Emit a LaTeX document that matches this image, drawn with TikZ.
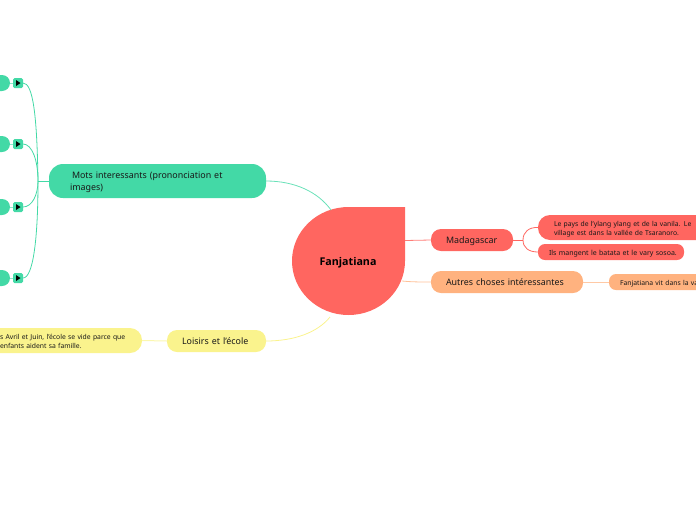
\documentclass[tikz,border=0pt]{standalone}
\usepackage{fontspec}
\setmainfont{Noto Sans}
\newfontfamily\ctrfont{Open Sans}
\newcommand\txtline[2]{\raisebox{-#1}[0pt][0pt]{#2}}
\definecolor{cgreen}{HTML}{43D9A6}
\definecolor{cred}{HTML}{FF6660}
\definecolor{corange}{HTML}{FFB27F}
\definecolor{cyellow}{HTML}{FAF38D}
\tikzset{
  boxbase/.style={inner ysep=0pt,outer sep=0pt,align=left,text=black!90},
  mainbox/.style={boxbase,font=\fontsize{8.9}{12}\selectfont},
  subbox/.style={boxbase,font=\fontsize{6.8}{9}\selectfont},
  stub/.style={fill=cgreen,rounded corners=8pt,minimum width=40pt,minimum height=16pt,inner sep=0pt,outer sep=0pt},
  fold/.style={fill=cgreen,rounded corners=1.5pt,minimum width=10pt,minimum height=10pt,inner sep=0pt,outer sep=0pt},
  link/.style={line width=0.8pt},
  greenlink/.style={link,cgreen},
}
\begin{document}
\begin{tikzpicture}[x=1pt,y=-1pt]
\useasboundingbox (0,0) rectangle (696,520);
\clip (0,0) rectangle (696,520);
% central topic
\fill[cred] (405,207) -- (405,261)
  .. controls (405,290.8) and (379.7,315) .. (348.5,315)
  .. controls (317.3,315) and (292,290.8) .. (292,261)
  .. controls (292,231.2) and (317.3,207) .. (348.5,207) -- cycle;
\node[font=\ctrfont\fontsize{10.7}{12}\bfseries\selectfont,text=black,inner sep=0pt] (center) at (348,261) {\txtline{4pt}{Fanjatiana}};
\coordinate (cNW) at (331,210);
\coordinate (cSW) at (330,317);
\coordinate (cE1) at (405,240.5);
\coordinate (cE2) at (402,281);
% main topics
\node[mainbox,fill=cgreen,rounded corners=14pt,minimum width=217pt,minimum height=34pt,inner xsep=21pt,text width=175pt] (mots) at (157.5,181) {\hspace*{2pt}\txtline{3.3pt}{Mots interessants (prononciation et}\\\txtline{3.3pt}{images)}};
\node[mainbox,fill=cyellow,rounded corners=10pt,minimum width=99pt,minimum height=22pt,inner xsep=15pt,text width=69pt] (loisirs) at (216.5,341) {\txtline{3.2pt}{Loisirs et l'école}};
\node[mainbox,fill=cred,rounded corners=10pt,minimum width=82pt,minimum height=22pt,inner xsep=15pt,text width=52pt] (mada) at (472,240) {\txtline{3.2pt}{Madagascar}};
\node[mainbox,fill=corange,rounded corners=10pt,minimum width=152pt,minimum height=22pt,inner xsep=15pt,text width=122pt] (autres) at (507,282) {\txtline{3.5pt}{Autres choses intéressantes}};
% sub topics
\node[subbox,fill=cyellow,rounded corners=12pt,minimum width=172pt,minimum height=25pt,inner xsep=0pt,text width=172pt] (avril) at (56,340.5) {\hspace*{30pt}\txtline{3pt}{s Avril et Juin, l'école se vide parce que}\\\hspace*{30pt}\txtline{3pt}{enfants aident sa famille.}};
\node[subbox,fill=cred,rounded corners=12pt,minimum width=172pt,minimum height=25pt,inner xsep=16pt,text width=140pt] (pays) at (624,227.5) {\txtline{3pt}{Le pays de l'ylang ylang et de la vanila. Le}\\\txtline{3pt}{village est dans la vallée de Tsaranoro.}};
\node[subbox,font=\fontsize{7}{9}\selectfont,fill=cred,rounded corners=7pt,minimum width=146pt,minimum height=16pt,inner xsep=11pt,text width=124pt] (ils) at (611,252) {\txtline{3.2pt}{Ils mangent le batata et le vary sosoa.}};
\node[subbox,fill=corange,rounded corners=7pt,minimum width=110pt,minimum height=16pt,inner xsep=11pt,text width=88pt] (fanj) at (664,282) {\txtline{3pt}{Fanjatiana vit dans la va}};
% word stubs
\foreach \i/\yy in {1/83,2/144,3/207,4/278}{
  \node[stub] (st\i) at (-10,\yy) {};
  \node[fold] (fo\i) at (18,\yy) {};
  \fill[black] (fo\i.center) ++(-2,-3) -- ++(4.5,3) -- ++(-4.5,3) -- cycle;
  \draw[link,cgreen!60] (st\i.east) -- (fo\i.west);
}
% connectors
\coordinate (trunk) at (38,181);
\draw[greenlink,line width=1pt] (mots.west) -- (trunk);
\draw[greenlink] (fo1.east) .. controls (33,83) and (37,115) .. (trunk);
\draw[greenlink] (fo2.east) .. controls (32,144) and (38,160) .. (trunk);
\draw[greenlink] (fo3.east) .. controls (32,207) and (38,195) .. (trunk);
\draw[greenlink] (fo4.east) .. controls (33,278) and (38,240) .. (trunk);
\draw[link,cgreen!80] (mots.east) .. controls (295,181) and (318,192) .. (cNW);
\draw[link,cyellow] (loisirs.east) .. controls (295,341) and (318,332) .. (cSW);
\draw[link,cyellow!70,line width=1pt] (avril.east) -- (loisirs.west);
\draw[link,cred!85] (cE1) -- (mada.west);
\draw[link,corange!80] (cE2) .. controls (412,282) and (420,282) .. (autres.west);
\draw[link,corange!70] (autres.east) -- (fanj.west);
\coordinate (mtrunk) at (523,240);
\draw[link,cred] (mada.east) -- (mtrunk);
\draw[link,cred] (mtrunk) .. controls (523,232) and (529,227) .. (pays.west);
\draw[link,cred] (mtrunk) .. controls (523,248) and (529,252) .. (ils.west);
\end{tikzpicture}
\end{document}
